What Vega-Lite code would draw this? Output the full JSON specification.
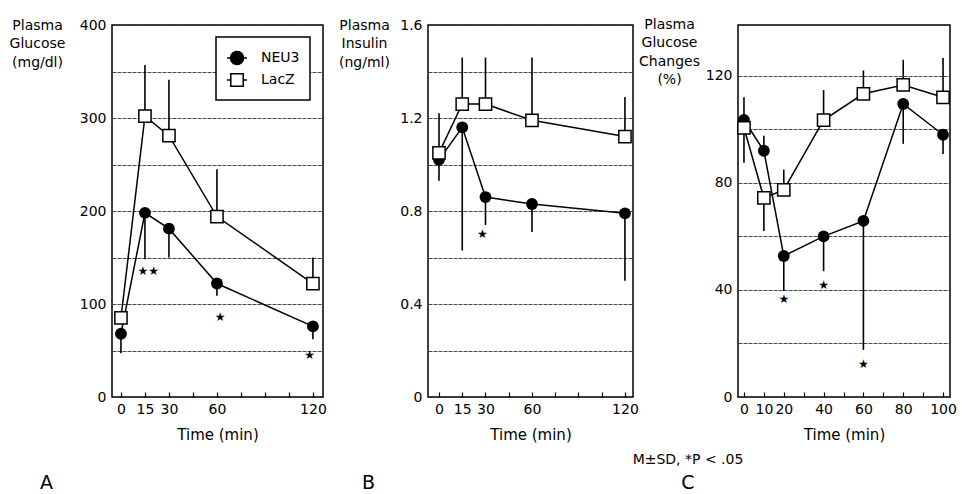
{
  "$schema": "https://vega.github.io/schema/vega-lite/v6.json",
  "padding": {"left": 8, "top": 16, "right": 0, "bottom": 0},
  "background": "white",
  "config": {
    "font": "DejaVu Sans",
    "view": {"stroke": "black", "strokeWidth": 1.5},
    "axis": {
      "labelFont": "DejaVu Sans", "labelFontSize": 14, "labelColor": "black",
      "titleFont": "DejaVu Sans", "titleFontSize": 14, "titleColor": "black", "titleFontWeight": "normal",
      "domain": false, "labelFlush": false, "labelOverlap": false,
      "gridColor": "#333", "gridWidth": 0.9, "gridDash": [4, 1]
    },
    "axisX": {"grid": false, "ticks": true, "tickSize": 5, "offset": -5, "tickColor": "black", "tickWidth": 1.2, "tickOpacity": 1, "labelPadding": 5, "titlePadding": 11, "titleFontSize": 15, "labelOverlap": false, "tickCount": 30},
    "axisY": {"grid": true, "ticks": false, "labelPadding": 6, "titleAngle": 0, "titleAlign": "center", "titleBaseline": "alphabetic", "titleLineHeight": 18.5, "tickCount": 30},
    "legend": {"strokeWidth": 1.5},
    "title": {"font": "DejaVu Sans", "fontWeight": "normal", "color": "black", "subtitleColor": "black", "subtitleFont": "DejaVu Sans", "frame": "group"}
  },
  "datasets": {
    "series": [
      {"p": "A", "g": "NEU3", "t": 0, "v": 68, "e": 47},
      {"p": "A", "g": "NEU3", "t": 15, "v": 198, "e": 148},
      {"p": "A", "g": "NEU3", "t": 30, "v": 181, "e": 150},
      {"p": "A", "g": "NEU3", "t": 60, "v": 122, "e": 109},
      {"p": "A", "g": "NEU3", "t": 120, "v": 76, "e": 62},
      {"p": "A", "g": "LacZ", "t": 0, "v": 85, "e": 85},
      {"p": "A", "g": "LacZ", "t": 15, "v": 302, "e": 357},
      {"p": "A", "g": "LacZ", "t": 30, "v": 281, "e": 341},
      {"p": "A", "g": "LacZ", "t": 60, "v": 194, "e": 245},
      {"p": "A", "g": "LacZ", "t": 120, "v": 122, "e": 150},
      {"p": "B", "g": "NEU3", "t": 0, "v": 1.02, "e": 0.93},
      {"p": "B", "g": "NEU3", "t": 15, "v": 1.16, "e": 0.63},
      {"p": "B", "g": "NEU3", "t": 30, "v": 0.86, "e": 0.74},
      {"p": "B", "g": "NEU3", "t": 60, "v": 0.83, "e": 0.71},
      {"p": "B", "g": "NEU3", "t": 120, "v": 0.79, "e": 0.5},
      {"p": "B", "g": "LacZ", "t": 0, "v": 1.05, "e": 1.22},
      {"p": "B", "g": "LacZ", "t": 15, "v": 1.26, "e": 1.46},
      {"p": "B", "g": "LacZ", "t": 30, "v": 1.26, "e": 1.46},
      {"p": "B", "g": "LacZ", "t": 60, "v": 1.19, "e": 1.46},
      {"p": "B", "g": "LacZ", "t": 120, "v": 1.12, "e": 1.29},
      {"p": "C", "g": "NEU3", "t": 0, "v": 103.5, "e": 112},
      {"p": "C", "g": "NEU3", "t": 10, "v": 92, "e": 97.6},
      {"p": "C", "g": "NEU3", "t": 20, "v": 52.7, "e": 39.6},
      {"p": "C", "g": "NEU3", "t": 40, "v": 60, "e": 47},
      {"p": "C", "g": "NEU3", "t": 60, "v": 65.8, "e": 17.6},
      {"p": "C", "g": "NEU3", "t": 80, "v": 109.5, "e": 94.6},
      {"p": "C", "g": "NEU3", "t": 100, "v": 98, "e": 90.8},
      {"p": "C", "g": "LacZ", "t": 0, "v": 100.6, "e": 87.5},
      {"p": "C", "g": "LacZ", "t": 10, "v": 74.4, "e": 62},
      {"p": "C", "g": "LacZ", "t": 20, "v": 77.4, "e": 85},
      {"p": "C", "g": "LacZ", "t": 40, "v": 103.5, "e": 114.7},
      {"p": "C", "g": "LacZ", "t": 60, "v": 113.3, "e": 122},
      {"p": "C", "g": "LacZ", "t": 80, "v": 116.6, "e": 126},
      {"p": "C", "g": "LacZ", "t": 100, "v": 112, "e": 126.7}
    ],
    "stars": [
      {"p": "A", "t": 17, "v": 135, "s": "★★"},
      {"p": "A", "t": 62, "v": 86, "s": "★"},
      {"p": "A", "t": 118, "v": 45, "s": "★"},
      {"p": "B", "t": 28, "v": 0.7, "s": "★"},
      {"p": "C", "t": 20, "v": 36.6, "s": "★"},
      {"p": "C", "t": 40, "v": 42, "s": "★"},
      {"p": "C", "t": 60, "v": 12.3, "s": "★"}
    ]
  },
  "bounds": "flush",
  "spacing": 105,
  "hconcat": [
    {
      "width": 211, "height": 372,
      "title": {"text": "A", "orient": "bottom", "anchor": "start", "align": "left", "dx": -72, "offset": 32, "fontSize": 19},
      "layer": [
        {
          "data": {"name": "series"},
          "transform": [{"filter": "datum.p === 'A'"}],
          "mark": {"type": "rule", "color": "black", "strokeWidth": 1.6},
          "encoding": {
            "x": {"field": "t", "type": "quantitative", "scale": {"domain": [-5.6, 126.3], "nice": false, "zero": false},
              "axis": {"values": [0, 15, 30, 45, 60, 75, 90, 105, 120], "tickCount": 30, "labelExpr": "indexof([0,15,30,60,120], datum.value) >= 0 ? datum.label : ''", "labelOverlap": false, "ticks": true, "tickSize": 5, "title": "Time (min)"}},
            "y": {"field": "v", "type": "quantitative", "scale": {"domain": [0, 400], "nice": false},
              "axis": {"values": [0, 50, 100, 150, 200, 250, 300, 350, 400], "tickCount": 30, "labelExpr": "datum.value % 100 === 0 ? datum.label : ''", "title": ["Plasma", "Glucose", "(mg/dl)"], "titleX": -75, "titleY": 4}},
            "y2": {"field": "e"}
          }
        },
        {
          "data": {"name": "series"},
          "transform": [{"filter": "datum.p === 'A'"}],
          "mark": {"type": "line", "color": "black", "strokeWidth": 1.5},
          "encoding": {"x": {"field": "t", "type": "quantitative"}, "y": {"field": "v", "type": "quantitative"}, "detail": {"field": "g"}}
        },
        {
          "data": {"name": "series"},
          "transform": [{"filter": "datum.p === 'A' && datum.g === 'NEU3'"}],
          "mark": {"type": "point", "shape": "circle", "filled": true, "color": "black", "size": 140, "opacity": 1},
          "encoding": {"x": {"field": "t", "type": "quantitative"}, "y": {"field": "v", "type": "quantitative"}}
        },
        {
          "data": {"name": "series"},
          "transform": [{"filter": "datum.p === 'A' && datum.g === 'LacZ'"}],
          "mark": {"type": "point", "shape": "square", "fill": "white", "stroke": "black", "strokeWidth": 1.5, "size": 150, "opacity": 1},
          "encoding": {"x": {"field": "t", "type": "quantitative"}, "y": {"field": "v", "type": "quantitative"}}
        },
        {
          "data": {"name": "series"},
          "transform": [{"filter": "false"}],
          "mark": {"type": "point", "stroke": "black", "strokeWidth": 1.5, "opacity": 1},
          "encoding": {
            "x": {"field": "t", "type": "quantitative"}, "y": {"field": "v", "type": "quantitative"},
            "shape": {"field": "g", "type": "nominal",
              "scale": {"domain": ["NEU3", "LacZ"], "range": ["M-1,0H-0.65M0.65,0H1M0.65,0A0.65,0.65,0,1,1,-0.65,0A0.65,0.65,0,1,1,0.65,0Z", "M-1,0H-0.62M0.62,0H1M-0.62,-0.62H0.62V0.62H-0.62Z"]},
              "legend": {"title": null, "orient": "none", "legendX": 104, "legendY": 12, "strokeColor": "black", "fillColor": "white", "padding": 10, "symbolSize": 400, "symbolStrokeWidth": 1.5, "symbolStrokeColor": "black", "labelFontSize": 14, "labelFont": "DejaVu Sans", "labelColor": "black", "labelOffset": 13, "rowPadding": 1, "symbolOpacity": 1,
                "encode": {"symbols": {"update": {"stroke": {"value": "black"}, "strokeWidth": {"value": 1.5}}}}}},
            "fill": {"field": "g", "type": "nominal",
              "scale": {"domain": ["NEU3", "LacZ"], "range": ["black", "white"]},
              "legend": {"title": null, "orient": "none", "legendX": 104, "legendY": 12, "strokeColor": "black", "fillColor": "white", "padding": 10, "symbolSize": 400, "symbolStrokeWidth": 1.5, "symbolStrokeColor": "black", "labelFontSize": 14, "labelFont": "DejaVu Sans", "labelColor": "black", "labelOffset": 13, "rowPadding": 1, "symbolOpacity": 1,
                "encode": {"symbols": {"update": {"stroke": {"value": "black"}, "strokeWidth": {"value": 1.5}}}}}}
          }
        },
        {
          "data": {"name": "stars"},
          "transform": [{"filter": "datum.p === 'A'"}],
          "mark": {"type": "text", "fontSize": 12, "baseline": "middle", "color": "black"},
          "encoding": {"x": {"field": "t", "type": "quantitative"}, "y": {"field": "v", "type": "quantitative"}, "text": {"field": "s"}}
        }
      ]
    },
    {
      "width": 205, "height": 372,
      "title": {"text": "B", "orient": "bottom", "anchor": "start", "align": "left", "dx": -66, "offset": 32, "fontSize": 19},
      "layer": [
        {
          "data": {"name": "series"},
          "transform": [{"filter": "datum.p === 'B'"}],
          "mark": {"type": "rule", "color": "black", "strokeWidth": 1.6},
          "encoding": {
            "x": {"field": "t", "type": "quantitative", "scale": {"domain": [-7.1, 125.2], "nice": false, "zero": false},
              "axis": {"values": [0, 15, 30, 45, 60, 75, 90, 105, 120], "tickCount": 30, "labelExpr": "indexof([0,15,30,60,120], datum.value) >= 0 ? datum.label : ''", "labelOverlap": false, "ticks": true, "tickSize": 5, "title": "Time (min)"}},
            "y": {"field": "v", "type": "quantitative", "scale": {"domain": [0, 1.6], "nice": false},
              "axis": {"values": [0, 0.2, 0.4, 0.6, 0.8, 1, 1.2, 1.4, 1.6], "tickCount": 30, "labelExpr": "indexof([0,0.4,0.8,1.2,1.6], datum.value) >= 0 ? (datum.value === 0 ? '0' : format(datum.value, '.1f')) : ''", "title": ["Plasma", "Insulin", "(ng/ml)"], "titleX": -64, "titleY": 4}},
            "y2": {"field": "e"}
          }
        },
        {
          "data": {"name": "series"},
          "transform": [{"filter": "datum.p === 'B'"}],
          "mark": {"type": "line", "color": "black", "strokeWidth": 1.5},
          "encoding": {"x": {"field": "t", "type": "quantitative"}, "y": {"field": "v", "type": "quantitative"}, "detail": {"field": "g"}}
        },
        {
          "data": {"name": "series"},
          "transform": [{"filter": "datum.p === 'B' && datum.g === 'NEU3'"}],
          "mark": {"type": "point", "shape": "circle", "filled": true, "color": "black", "size": 140, "opacity": 1},
          "encoding": {"x": {"field": "t", "type": "quantitative"}, "y": {"field": "v", "type": "quantitative"}}
        },
        {
          "data": {"name": "series"},
          "transform": [{"filter": "datum.p === 'B' && datum.g === 'LacZ'"}],
          "mark": {"type": "point", "shape": "square", "fill": "white", "stroke": "black", "strokeWidth": 1.5, "size": 150, "opacity": 1},
          "encoding": {"x": {"field": "t", "type": "quantitative"}, "y": {"field": "v", "type": "quantitative"}}
        },
        {
          "data": {"name": "stars"},
          "transform": [{"filter": "datum.p === 'B'"}],
          "mark": {"type": "text", "fontSize": 12, "baseline": "middle", "color": "black"},
          "encoding": {"x": {"field": "t", "type": "quantitative"}, "y": {"field": "v", "type": "quantitative"}, "text": {"field": "s"}}
        }
      ]
    },
    {
      "width": 212, "height": 372,
      "title": {"text": "M±SD, *P < .05", "subtitle": "C", "orient": "bottom", "anchor": "start", "align": "center", "dx": -50, "offset": 11, "fontSize": 14, "subtitleFontSize": 19, "subtitlePadding": 7},
      "layer": [
        {
          "data": {"name": "series"},
          "transform": [{"filter": "datum.p === 'C'"}],
          "mark": {"type": "rule", "color": "black", "strokeWidth": 1.6},
          "encoding": {
            "x": {"field": "t", "type": "quantitative", "scale": {"domain": [-3, 103.5], "nice": false, "zero": false},
              "axis": {"values": [0, 10, 20, 30, 40, 50, 60, 70, 80, 90, 100], "tickCount": 30, "labelExpr": "indexof([0,10,20,40,60,80,100], datum.value) >= 0 ? datum.label : ''", "labelOverlap": false, "ticks": true, "tickSize": 5, "title": "Time (min)"}},
            "y": {"field": "v", "type": "quantitative", "scale": {"domain": [0, 139], "nice": false},
              "axis": {"values": [0, 20, 40, 60, 80, 100, 120], "tickCount": 30, "labelExpr": "datum.value % 40 === 0 ? datum.label : ''", "title": ["Plasma", "Glucose", "Changes", "(%)"], "titleX": -69, "titleY": 3}},
            "y2": {"field": "e"}
          }
        },
        {
          "data": {"name": "series"},
          "transform": [{"filter": "datum.p === 'C'"}],
          "mark": {"type": "line", "color": "black", "strokeWidth": 1.5},
          "encoding": {"x": {"field": "t", "type": "quantitative"}, "y": {"field": "v", "type": "quantitative"}, "detail": {"field": "g"}}
        },
        {
          "data": {"name": "series"},
          "transform": [{"filter": "datum.p === 'C' && datum.g === 'NEU3'"}],
          "mark": {"type": "point", "shape": "circle", "filled": true, "color": "black", "size": 140, "opacity": 1},
          "encoding": {"x": {"field": "t", "type": "quantitative"}, "y": {"field": "v", "type": "quantitative"}}
        },
        {
          "data": {"name": "series"},
          "transform": [{"filter": "datum.p === 'C' && datum.g === 'LacZ'"}],
          "mark": {"type": "point", "shape": "square", "fill": "white", "stroke": "black", "strokeWidth": 1.5, "size": 150, "opacity": 1},
          "encoding": {"x": {"field": "t", "type": "quantitative"}, "y": {"field": "v", "type": "quantitative"}}
        },
        {
          "data": {"name": "stars"},
          "transform": [{"filter": "datum.p === 'C'"}],
          "mark": {"type": "text", "fontSize": 12, "baseline": "middle", "color": "black"},
          "encoding": {"x": {"field": "t", "type": "quantitative"}, "y": {"field": "v", "type": "quantitative"}, "text": {"field": "s"}}
        }
      ]
    }
  ]
}
